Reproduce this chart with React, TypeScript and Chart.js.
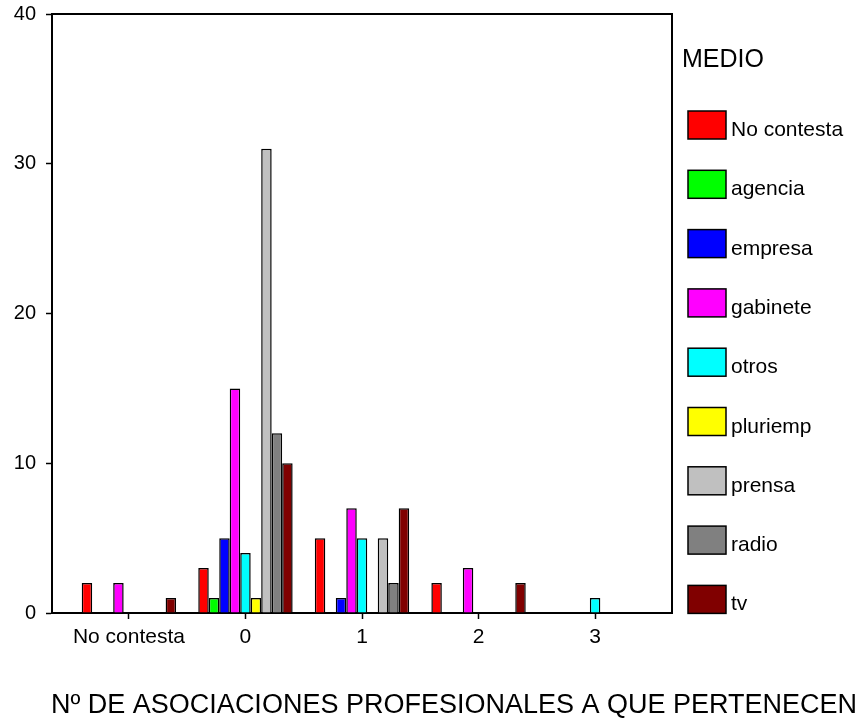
import React, { useEffect, useRef } from "react";
import { Chart, registerables } from "chart.js";

Chart.register(...registerables);

const categories = ["No contesta", "0", "1", "2", "3"];
const seriesNames = ["No contesta", "agencia", "empresa", "gabinete", "otros", "pluriemp", "prensa", "radio", "tv"];
const seriesColors = ["#FF0000", "#00FF00", "#0000FF", "#FF00FF", "#00FFFF", "#FFFF00", "#C0C0C0", "#808080", "#800000"];

const noContesta = [2, 3, 5, 2, 0];
const agencia = [0, 1, 0, 0, 0];
const empresa = [0, 5, 1, 0, 0];
const gabinete = [2, 15, 7, 3, 0];
const otros = [0, 4, 5, 0, 1];
const pluriemp = [0, 1, 0, 0, 0];
const prensa = [0, 31, 5, 0, 0];
const radio = [0, 12, 2, 0, 0];
const tv = [1, 10, 7, 2, 0];

const seriesValues = [noContesta, agencia, empresa, gabinete, otros, pluriemp, prensa, radio, tv];

const yMin = 0;
const yMax = 40;
const yStep = 10;

const legendTitle = "MEDIO";
const xTitle = "Nº DE ASOCIACIONES PROFESIONALES A QUE PERTENECEN";

const FONT = 'Arial, "Liberation Sans", sans-serif';

const framePlugin = {
  id: "frame",
  afterDraw(chart: any) {
    const { ctx, chartArea } = chart;
    ctx.save();
    ctx.strokeStyle = "#000";
    ctx.lineWidth = 2;
    ctx.beginPath();
    ctx.moveTo(chartArea.left, chartArea.top);
    ctx.lineTo(chartArea.right, chartArea.top);
    ctx.lineTo(chartArea.right, chartArea.bottom);
    ctx.stroke();
    ctx.restore();
  },
};

const legendPlugin = {
  id: "customLegend",
  afterDraw(chart: any) {
    const { ctx, chartArea } = chart;
    const x0 = chartArea.right + 16;
    ctx.save();
    ctx.fillStyle = "#000";
    ctx.textAlign = "left";
    ctx.textBaseline = "alphabetic";
    ctx.font = `25px ${FONT}`;
    ctx.fillText(legendTitle, chartArea.right + 10, 67);
    ctx.font = `21px ${FONT}`;
    chart.data.datasets.forEach((ds: any, i: number) => {
      const top = 111 + i * 59.3;
      ctx.fillStyle = ds.backgroundColor;
      ctx.fillRect(x0, top, 38, 28);
      ctx.strokeStyle = "#000";
      ctx.lineWidth = 1.5;
      ctx.strokeRect(x0, top, 38, 28);
      ctx.fillStyle = "#000";
      ctx.fillText(ds.label, x0 + 43, top + 25);
    });
    ctx.restore();
  },
};

const xTitlePlugin = {
  id: "xTitle",
  afterDraw(chart: any) {
    const { ctx } = chart;
    ctx.save();
    ctx.fillStyle = "#000";
    ctx.textAlign = "center";
    ctx.textBaseline = "alphabetic";
    ctx.font = `27px ${FONT}`;
    ctx.fillText(xTitle, 454, 713);
    ctx.restore();
  },
};

export default function App() {
  const ref = useRef<HTMLCanvasElement | null>(null);

  useEffect(() => {
    if (!ref.current) return;
    const chart = new Chart(ref.current, {
      type: "bar",
      data: {
        datasets: seriesNames.map((name, si) => ({
          label: name,
          data: seriesValues[si].map((v, ci) => ({ x: ci, y: v })),
          backgroundColor: seriesColors[si],
          borderColor: "#000",
          borderWidth: 1.5,
          categoryPercentage: 0.81,
          barPercentage: 1,
        })),
      },
      options: {
        animation: false,
        responsive: false,
        layout: { padding: { left: 0, top: 14, right: 188, bottom: 0 } },
        plugins: {
          legend: { display: false },
          tooltip: { enabled: false },
        },
        scales: {
          x: {
            type: "linear",
            offset: false,
            min: -0.66,
            max: categories.length - 1 + 0.66,
            ticks: {
              stepSize: 1,
              includeBounds: false,
              autoSkip: false,
              maxRotation: 0,
              padding: 6,
              color: "#000",
              font: { family: FONT, size: 21 },
              callback: (v: any) => categories[Math.round(Number(v))] ?? "",
            },
            grid: { display: true, offset: false, drawOnChartArea: false, tickLength: 6, tickColor: "#000", tickWidth: 1.5 },
            border: { color: "#000", width: 2 },
            afterFit: (s: any) => {
              s.height = 106;
              s.paddingLeft = 0;
              s.paddingRight = 0;
            },
          },
          y: {
            min: yMin,
            max: yMax,
            ticks: {
              stepSize: yStep,
              padding: 10,
              color: "#000",
              font: { family: FONT, size: 20 },
            },
            grid: { display: true, drawOnChartArea: false, tickLength: 6, tickColor: "#000", tickWidth: 1.5 },
            border: { color: "#000", width: 2 },
            afterFit: (s: any) => {
              s.width = 52;
              s.paddingTop = 0;
              s.paddingBottom = 0;
            },
          },
        },
      },
      plugins: [framePlugin, legendPlugin, xTitlePlugin],
    } as any);
    return () => chart.destroy();
  }, []);

  return (
    <div style={{ position: "fixed", left: 0, top: 0, width: 860, height: 719, background: "#fff" }}>
      <canvas ref={ref} width={860} height={719} style={{ width: 860, height: 719 }} />
    </div>
  );
}
